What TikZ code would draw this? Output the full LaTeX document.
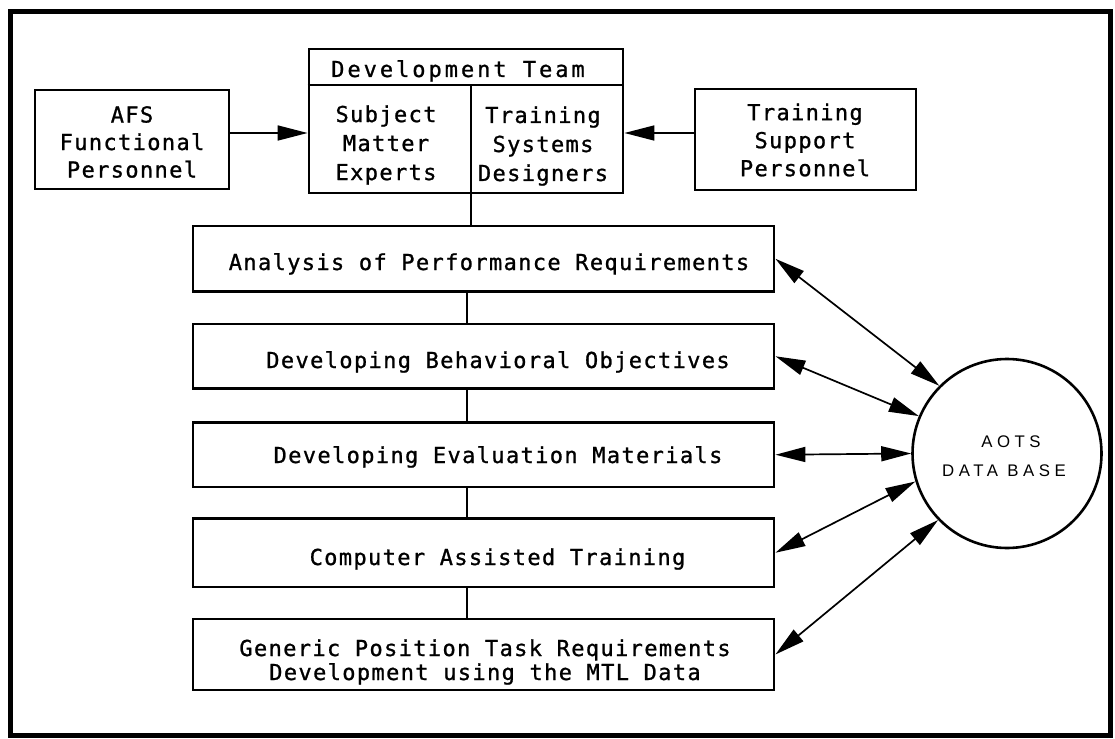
\documentclass[tikz,border=0pt]{standalone}
\usepackage{fontspec}
\usetikzlibrary{arrows.meta}
\newfontfamily\boxfont[LetterSpace=6.2,FakeBold=1]{DejaVu Sans Mono}
\newfontfamily\hdrfont[LetterSpace=13.5,FakeBold=1]{DejaVu Sans Mono}
\newfontfamily\dbfont[LetterSpace=27]{Liberation Sans}
\begin{document}
\begin{tikzpicture}[x=1pt,y=-1pt,
  box/.style={draw, line width=2.8pt, inner sep=0pt},
  lbl/.style={font=\boxfont\fontsize{22pt}{28pt}\selectfont, align=center, inner sep=0pt},
  lblA/.style={lbl, font=\boxfont\fontsize{22pt}{27.5pt}\selectfont},
  lblD/.style={lbl, font=\boxfont\fontsize{22pt}{29pt}\selectfont},
  lblG/.style={lbl, font=\boxfont\fontsize{22pt}{24pt}\selectfont},
  hdr/.style={font=\hdrfont\fontsize{22pt}{24pt}\selectfont, inner sep=0pt},
  dbl/.style={font=\dbfont\fontsize{16.8pt}{20pt}\selectfont, inner sep=0pt},
  conn/.style={line width=1.5pt},
  arr/.style={line width=1.7pt},
  >={Triangle[length=30pt,width=15pt]}]
\useasboundingbox (0,0) rectangle (1115,738);
% outer frame
\draw[line width=5pt] (10,12) rectangle (1110.5,735);

% top row
\node[box, minimum width=194pt, minimum height=99pt] (afs) at (132,139.5) {};
\node[lblA] (afst) at (132,142) {AFS\\Functional\\Personnel};

\node[box, minimum width=314pt, minimum height=144pt] (dev) at (466,121) {};
\coordinate (hl) at (0,85);
\coordinate (dvt) at (471,85);
\draw[line width=2.2pt] (dev.west |- hl) -- (dev.east |- hl);
\draw[line width=1.6pt] (dvt) -- (dvt |- dev.south);
\node[hdr, anchor=base] (devh) at (458,77) {Development Team};
\node[lblD] (sme) at (386,145) {Subject\\Matter\\Experts};
\node[lblD] (tsd) at (543,146) {Training\\Systems\\Designers};

\node[box, minimum width=221pt, minimum height=101pt] (tsp) at (805.5,139.5) {};
\node[lbl] (tspt) at (805,140) {Training\\Support\\Personnel};

\draw[arr,->] ([yshift=6.5pt]afs.east) -- ([yshift=6.5pt]afs.east -| dev.west);
\draw[arr,->] ([yshift=6.5pt]tsp.west) -- ([yshift=6.5pt]tsp.west -| dev.east);

% column of process boxes
\node[box, minimum width=581pt, minimum height=65.5pt] (ana) at (483.5,258.75) {};
\node[box, minimum width=581pt, minimum height=64.5pt] (beh) at (483.5,356.25) {};
\node[box, minimum width=581pt, minimum height=64.5pt] (eva) at (483.5,454.75) {};
\node[box, minimum width=581pt, minimum height=68.5pt] (cat) at (483.5,552.75) {};
\node[box, minimum width=581pt, minimum height=71pt] (gen) at (483.5,654.5) {};

\node[lbl, anchor=base] (anat) at (489,270) {Analysis of Performance Requirements};
\node[lbl, anchor=base] (beht) at (498,368) {Developing Behavioral Objectives};
\node[lbl, anchor=base] (evat) at (498,463) {Developing Evaluation Materials};
\node[lbl, anchor=base] (catt) at (497.5,565) {Computer Assisted Training};
\node[lblG] (gent) at (485,662) {Generic Position Task Requirements\\Development using the MTL Data};

\coordinate (cx) at (467,0);
\draw[conn] (dvt |- dev.south) -- (dvt |- ana.north);
\draw[conn] (cx |- ana.south) -- (cx |- beh.north);
\draw[conn] (cx |- beh.south) -- (cx |- eva.north);
\draw[conn] (cx |- eva.south) -- (cx |- cat.north);
\draw[conn] (cx |- cat.south) -- (cx |- gen.north);

% data base
\node[draw, circle, line width=2.6pt, minimum size=189pt, inner sep=0pt] (db) at (1007,453.5) {};
\node[dbl, anchor=base] (dbt1) at (1011,447) {AOTS};
\node[dbl, anchor=base] (dbt2) at (1004,476) {DATA BASE};

\draw[arr,<->] (ana.east) -- (db.135);
\draw[arr,<->] (beh.east) -- (db.157);
\draw[arr,<->] (eva.east) -- (db.180);
\draw[arr,<->] (cat.east) -- (db.197);
\draw[arr,<->] (gen.east) -- (db.224);
\end{tikzpicture}
\end{document}
